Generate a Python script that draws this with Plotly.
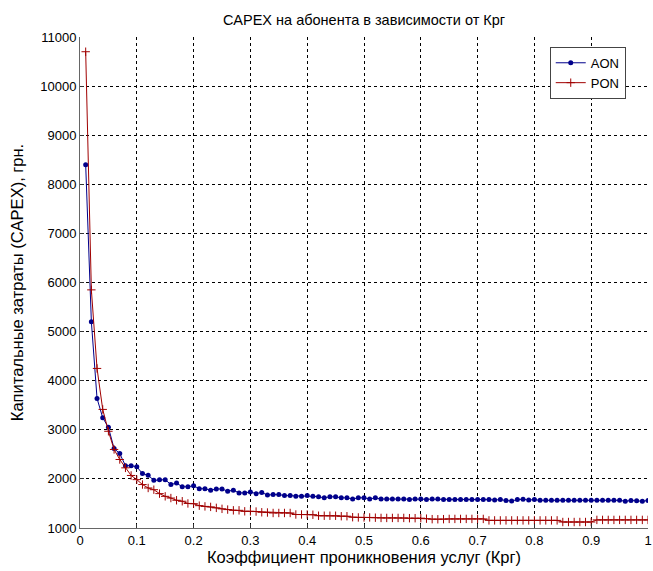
import plotly.graph_objects as go

# Penetration coefficient Kpr: 0.01 .. 1.00
kpr = [i / 100 for i in range(1, 101)]

aon = [8400, 5200, 3640, 3245, 3050, 2620, 2515, 2270, 2270, 2245,
       2110, 2075, 1970, 1985, 1985, 1885, 1915, 1840, 1840, 1860,
       1800, 1800, 1770, 1795, 1795, 1750, 1770, 1715, 1715, 1735,
       1700, 1725, 1670, 1680, 1680, 1660, 1660, 1645, 1645, 1660,
       1645, 1635, 1615, 1635, 1635, 1615, 1615, 1590, 1615, 1615,
       1590, 1615, 1590, 1590, 1590, 1590, 1590, 1578, 1590, 1590,
       1578, 1590, 1590, 1578, 1578, 1578, 1578, 1578, 1578, 1578,
       1578, 1578, 1570, 1578, 1560, 1550, 1578, 1585, 1570, 1578,
       1564, 1564, 1564, 1564, 1564, 1564, 1564, 1564, 1564, 1564,
       1564, 1564, 1564, 1564, 1564, 1545, 1560, 1555, 1545, 1560]

pon = [10700, 5850, 4250, 3415, 2970, 2600, 2395, 2225, 2070, 1985,
       1885, 1815, 1780, 1700, 1645, 1610, 1565, 1545, 1500, 1495,
       1455, 1440, 1430, 1410, 1390, 1375, 1360, 1360, 1340, 1340,
       1335, 1320, 1315, 1306, 1306, 1306, 1306, 1275, 1275, 1275,
       1270, 1250, 1250, 1250, 1250, 1240, 1240, 1220, 1215, 1215,
       1215, 1210, 1205, 1205, 1205, 1205, 1205, 1200, 1200, 1200,
       1190, 1180, 1178, 1180, 1185, 1185, 1185, 1185, 1185, 1185,
       1185, 1155, 1155, 1155, 1155, 1155, 1155, 1155, 1155, 1155,
       1155, 1155, 1155, 1155, 1122, 1122, 1122, 1122, 1122, 1122,
       1165, 1165, 1165, 1165, 1165, 1165, 1165, 1165, 1165, 1165]

x_ticks = [0, 0.1, 0.2, 0.3, 0.4, 0.5, 0.6, 0.7, 0.8, 0.9, 1]
x_tick_text = ["0", "0.1", "0.2", "0.3", "0.4", "0.5", "0.6", "0.7", "0.8", "0.9", "1"]
y_ticks = [1000, 2000, 3000, 4000, 5000, 6000, 7000, 8000, 9000, 10000, 11000]
y_tick_text = [str(v) for v in y_ticks]

BLUE = "#00008b"
RED = "#a00000"
FONT = "Liberation Sans, Arial, sans-serif"

fig = go.Figure()
fig.add_trace(go.Scatter(
    x=kpr, y=aon, name="AON", mode="lines+markers",
    line=dict(color=BLUE, width=1),
    marker=dict(symbol="circle", size=5, color=BLUE),
))
fig.add_trace(go.Scatter(
    x=kpr, y=pon, name="PON", mode="lines+markers",
    line=dict(color=RED, width=1),
    marker=dict(symbol="cross-thin", size=6, color=RED, line=dict(color=RED, width=1)),
))

axis_common = dict(
    showgrid=True, gridcolor="#000000", gridwidth=1, griddash="3px,3px",
    showline=True, linecolor="#666666", linewidth=1, mirror=False,
    ticks="inside", ticklen=4, tickcolor="#333333",
    tickfont=dict(family=FONT, size=13, color="#000000"),
    zeroline=False, ticklabeloverflow="allow",
)

fig.update_layout(
    width=653, height=571,
    margin=dict(l=80, r=1, t=37, b=43),
    paper_bgcolor="white", plot_bgcolor="white",
    font=dict(family=FONT, color="#000000"),
    title=dict(text="CAPEX на абонента в зависимости от Крг",
               x=364 / 653, xanchor="center",
               y=1 - 20 / 571, yanchor="middle",
               font=dict(family=FONT, size=14.5, color="#000000")),
    xaxis=dict(range=[0, 1], tickvals=x_ticks, ticktext=x_tick_text,
               title=dict(text="Коэффициент проникновения услуг (Крг)",
                          font=dict(family=FONT, size=16.5), standoff=4),
               **axis_common),
    yaxis=dict(range=[1000, 11000], tickvals=y_ticks, ticktext=y_tick_text,
               title=dict(text="Капитальные затраты (CAPEX), грн.",
                          font=dict(family=FONT, size=16.5), standoff=12),
               **axis_common),
    legend=dict(x=0.827, y=0.98, xanchor="left", yanchor="top",
                bgcolor="white", bordercolor="#444444", borderwidth=1,
                font=dict(family=FONT, size=13, color="#000000"),
                tracegroupgap=0, itemwidth=30),
    showlegend=True,
)

fig.write_html("out.html")
